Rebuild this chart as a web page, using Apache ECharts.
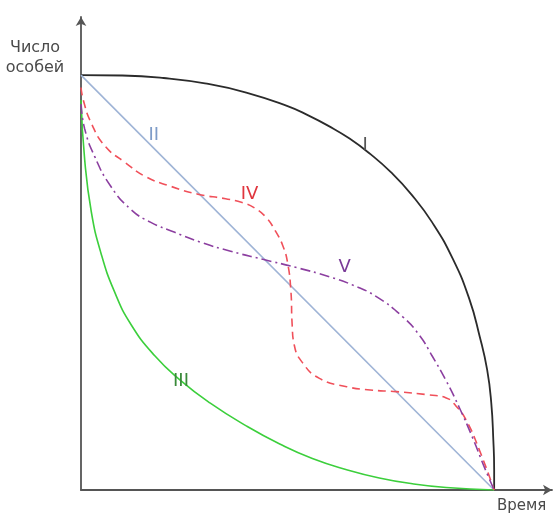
<!DOCTYPE html>
<html><head><meta charset="utf-8">
<script src="https://cdn.jsdelivr.net/npm/echarts@6/dist/echarts.min.js"></script>
<style>html,body{margin:0;padding:0;background:#fff}#c{width:554px;height:515px}</style>
</head><body><div id="c"></div>
<script>
// Curve data (time 0..100, number of individuals 0..100)
const curveI = [[0,100],[10,99.9],[20,99.3],[30,98],[40,95.8],[50,92.5],[55,90.3],[60,87.7],[65,84.7],[70,81],[75,76.6],[80,71.2],[85,64.5],[90,55.7],[94,46],[96.5,37],[98.3,29],[99.3,21],[99.8,12],[100,5],[100,0]];
const curveII = [[0,100],[100,0]];
const curveIII = [[0,94],[0.9,79.5],[2.5,67],[4.8,57.2],[8.1,47.8],[12.1,39.9],[17.8,32.4],[24,26.5],[31.2,21.0],[40.1,15.4],[48.1,11.1],[56,7.6],[64.3,4.9],[72.2,2.9],[80.2,1.5],[88.4,0.6],[100,0]];
const curveIV = [[0,97],[0.6,93.8],[2.4,88.6],[5.8,82.9],[10.6,79],[15.5,75.6],[21.7,73.2],[28.3,71.3],[35,70.2],[39,69.3],[42,68],[44.9,65.6],[47,62.5],[48.8,59],[50,54.8],[50.8,48],[51.1,40],[51.6,35],[53.6,30.7],[57.7,26.9],[64.3,24.9],[70,24.1],[76.3,23.7],[84.3,22.9],[88.4,22.2],[90.8,20.2],[93.2,16.9],[96.4,9.7],[100,0]];
const curveV = [[0,93],[0.9,87],[3.3,80.4],[7.2,73.2],[12.1,67.6],[16.9,64.5],[22.7,62.1],[29,59.7],[36,57.6],[44,55.6],[52.2,53.6],[60.1,51.4],[66,49.3],[71.5,46.6],[77.8,41.8],[81.9,37.3],[85,32.3],[88.4,26.3],[91.5,20],[94.7,12.8],[97.5,5.8],[100,0]];
// Curve labels and their positions (data units)
const curveNames = ['I','II','III','IV','V'];
const labelCoords = [[68.8,83.1],[17.6,85.5],[24.2,26.3],[40.8,71.3],[63.8,53.6]];
const axisNames = ['Число\nособей','Время'];

const colors = ['#2b2b2b','#9fb4d6','#3ccf3c','#f0505a','#8c3fa0'];
const labelColors = ['#555','#7f9cc8','#3a8a3a','#e0363e','#7a3b98'];
const lineTypes = ['solid','solid','solid',[8,5],[10,4,2,4]];
const datas = [curveI,curveII,curveIII,curveIV,curveV];

const chart = echarts.init(document.getElementById('c'), null, {renderer:'canvas'});
chart.setOption({
  animation:false,
  backgroundColor:'#fff',
  grid:{left:81,right:2,top:17,bottom:25},
  xAxis:{type:'value',min:0,max:114,
    axisLine:{show:true,onZero:false,symbol:['none','arrow'],symbolSize:[8,9],lineStyle:{color:'#555',width:1.8}},
    axisTick:{show:false},axisLabel:{show:false},splitLine:{show:false}},
  yAxis:{type:'value',min:0,max:114,
    axisLine:{show:true,onZero:false,symbol:['none','arrow'],symbolSize:[8,9],lineStyle:{color:'#555',width:1.8}},
    axisTick:{show:false},axisLabel:{show:false},splitLine:{show:false}},
  graphic:[
    {type:'text',left:3,top:38,style:{text:axisNames[0],font:'16px "DejaVu Sans", sans-serif',fill:'#4a4a4a',textAlign:'center',lineHeight:20,width:64}},
    {type:'text',left:497,top:499,style:{text:axisNames[1],font:'15px "DejaVu Sans", sans-serif',fill:'#4a4a4a'}}
  ],
  series: datas.map((d,i)=>({
    type:'line',data:d,symbol:'none',smooth:i===1?false:0.5,
    lineStyle:{color:colors[i],width:i===0?1.8:1.6,type:lineTypes[i]},
    markPoint:{symbol:'circle',symbolSize:0,silent:true,
      label:{show:true,position:'inside',formatter:curveNames[i],color:labelColors[i],fontSize:18,fontFamily:'"DejaVu Sans", sans-serif'},
      data:[{coord:labelCoords[i]}]}
  }))
});
</script></body></html>
